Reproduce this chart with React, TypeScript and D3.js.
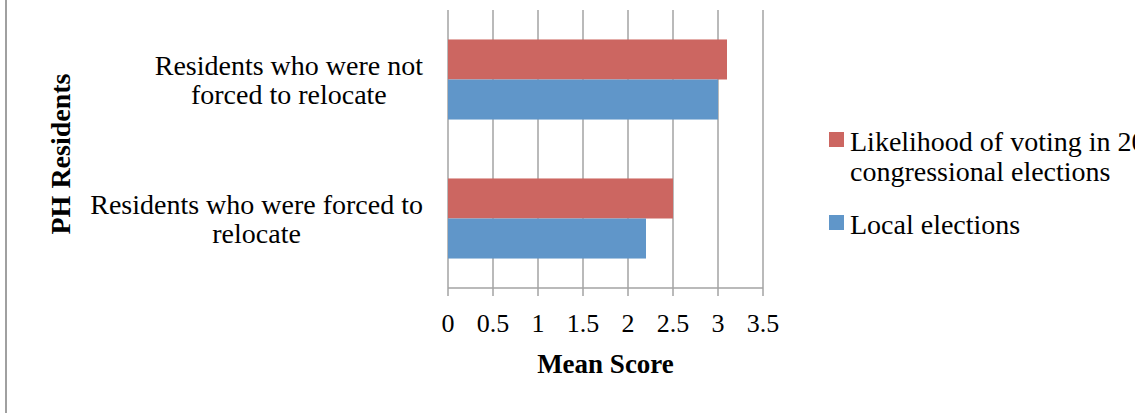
import { useEffect, useRef } from "react"
import * as d3 from "d3"

// categories top to bottom, each label split into its lines
const categories = ["not-forced", "forced"]
const categoryLines = [
  ["Residents who were not", "forced to relocate"],
  ["Residents who were forced to", "relocate"],
]
const seriesNames = ["Likelihood of voting in 2014 congressional elections", "Local elections"]
const legendLines = [["Likelihood of voting in 2014", "congressional elections"], ["Local elections"]]
const likelihoodValues = [3.1, 2.5]
const localValues = [3.0, 2.2]
const xTicks = [0, 0.5, 1, 1.5, 2, 2.5, 3, 3.5]
const colors = ["#cc6661", "#6096c9"]

const W = 1135
const H = 414
const FONT = "'Liberation Serif', 'Times New Roman', serif"

export default function App() {
  const ref = useRef<SVGSVGElement>(null)

  useEffect(() => {
    const svg = d3.select(ref.current)
    svg.selectAll("*").remove()

    const x = d3.scaleLinear().domain([0, 3.5]).range([448, 763])
    const y = d3.scaleBand().domain(categories).range([10, 288]).paddingInner(0.424).paddingOuter(0.212)
    const ySub = d3.scaleBand().domain(seriesNames).range([0, y.bandwidth()])
    const valuesBySeries = [likelihoodValues, localValues]

    // outer chart border (only the left edge is in view)
    svg.append("line").attr("x1", 6).attr("x2", 6).attr("y1", 0).attr("y2", 413)
      .attr("stroke", "#a0a0a0").attr("stroke-width", 2)

    // vertical grid lines
    svg.append("g").selectAll("line").data(xTicks).join("line")
      .attr("x1", (d) => x(d)).attr("x2", (d) => x(d))
      .attr("y1", 10).attr("y2", 296)
      .attr("stroke", "#a3a3a3").attr("stroke-width", 1.5)

    // bottom axis line
    svg.append("line").attr("x1", x(0)).attr("x2", x(3.5)).attr("y1", 288).attr("y2", 288)
      .attr("stroke", "#a3a3a3").attr("stroke-width", 1.5)

    // bars
    seriesNames.forEach((s, si) => {
      svg.append("g").selectAll("rect").data(categories).join("rect")
        .attr("x", x(0))
        .attr("y", (c) => (y(c) ?? 0) + (ySub(s) ?? 0))
        .attr("width", (_c, i) => x(valuesBySeries[si][i]) - x(0))
        .attr("height", ySub.bandwidth())
        .attr("fill", colors[si])
    })

    // x tick labels
    svg.append("g").selectAll("text").data(xTicks).join("text")
      .attr("x", (d) => x(d)).attr("y", 332)
      .attr("text-anchor", "middle")
      .attr("font-family", FONT).attr("font-size", 26).attr("fill", "#000")
      .text((d) => String(d))

    svg.append("text").attr("x", (x(0) + x(3.5)) / 2).attr("y", 373)
      .attr("text-anchor", "middle").attr("font-family", FONT)
      .attr("font-size", 27).attr("font-weight", "bold").text("Mean Score")

    svg.append("text").attr("transform", `translate(70,154) rotate(-90)`)
      .attr("text-anchor", "middle").attr("font-family", FONT)
      .attr("font-size", 28).attr("font-weight", "bold").text("PH Residents")

    // category labels: block right aligned, lines centred inside it
    categories.forEach((c, ci) => {
      const cy = (y(c) ?? 0) + y.bandwidth() / 2
      const g = svg.append("g")
      const texts = g.selectAll("text").data(categoryLines[ci]).join("text")
        .attr("y", (_d, i) => cy - 5 + i * 29)
        .attr("text-anchor", "middle")
        .attr("font-family", FONT).attr("font-size", 28).attr("fill", "#000")
        .text((d) => d)
      let maxW = 0
      texts.each(function () {
        maxW = Math.max(maxW, (this as SVGTextElement).getComputedTextLength())
      })
      texts.attr("x", 423 - maxW / 2)
    })

    // legend
    const legendTop = [132, 215]
    legendLines.forEach((lines, li) => {
      svg.append("rect").attr("x", 829).attr("y", legendTop[li]).attr("width", 15).attr("height", 15)
        .attr("fill", colors[li])
      svg.append("g").selectAll("text").data(lines).join("text")
        .attr("x", 850).attr("y", (_d, i) => legendTop[li] + 19 + i * 30)
        .attr("font-family", FONT).attr("font-size", 28).attr("fill", "#000")
        .text((d) => d)
    })
  }, [])

  return (
    <svg
      ref={ref}
      width={W}
      height={H}
      style={{ position: "absolute", left: 0, top: 0, background: "#fff" }}
    />
  )
}
